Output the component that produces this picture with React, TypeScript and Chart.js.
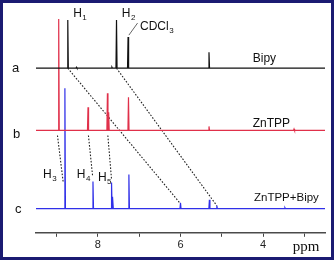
import { useEffect, useRef } from 'react';
import { Chart, registerables } from 'chart.js';
Chart.register(...registerables);

// x axis (ppm, reversed)
const ppmMin = 2.5;
const ppmMax = 9.5;
const xTicks = [9, 8, 7, 6, 5, 4, 3];
const xTickLabels = ['', '8', '', '6', '', '4', ''];

// trace baselines (intensity units)
const traceOffsets = [164, 102, 24];
const traceColors = ['#111111', '#e0304a', '#3030e8'];

// a: Bipy
const bipyPpm = [8.73, 8.52, 7.66, 7.55, 7.27, 5.31];
const bipyHeight = [48, 1, 1, 48, 31, 16];
// b: ZnTPP
const znPpm = [8.95, 8.24, 7.77, 7.74, 7.26, 5.31, 3.25];
const znHeight = [111, 23, 37, 18, 33, 4, 1.5];
// c: ZnTPP+Bipy
const mixPpm = [8.8, 8.12, 7.67, 7.64, 7.25, 6.0, 5.3, 5.12, 3.47];
const mixHeight = [120, 27, 26, 12, 34, 6, 9, 3, 1];

// dotted correlation lines
const linkFromPpm = [8.73, 7.55, 8.98, 8.23, 7.76];
const linkFromY = [164, 164, 97, 97, 97];
const linkToPpm = [6.0, 5.12, 8.84, 8.13, 7.67];
const linkToY = [29, 27, 50, 57, 53];

// CDCl3 leader line
const leaderPpm = [7.25, 7.04];
const leaderY = [197, 209];

// text annotations
const labelText = ['H', 'H', 'CDCl', 'Bipy', 'ZnTPP', 'ZnTPP+Bipy', 'a', 'b', 'c', 'H', 'H', 'H'];
const labelSub = ['1', '2', '3', '', '', '', '', '', '', '3', '4', '5'];
const labelPpm = [8.6, 7.42, 6.98, 4.25, 4.25, 4.22, 10.08, 10.06, 10.01, 9.33, 8.51, 8.0];
const labelY = [215, 215, 202, 170, 105, 32, 160, 94, 20, 55, 55, 52];
const labelSize = [12, 12, 12, 12, 12, 11.5, 13, 13, 13, 12, 12, 12];
const axisTitle = 'ppm';
const axisTitlePpm = 3.28;
const axisTitleY = -18;

const peakHalfWidth = 0.013;

function buildSpectrum(ppm: number[], height: number[], base: number) {
  const idx = ppm.map((_, i) => i).sort((a, b) => ppm[b] - ppm[a]);
  const pts: { x: number; y: number }[] = [{ x: ppmMax, y: base }];
  for (const i of idx) {
    pts.push({ x: ppm[i] + peakHalfWidth, y: base });
    pts.push({ x: ppm[i], y: base + height[i] });
    pts.push({ x: ppm[i] - peakHalfWidth, y: base });
  }
  pts.push({ x: ppmMin, y: base });
  return pts;
}

const SANS = '"Liberation Sans", Arial, sans-serif';
const SERIF = '"Liberation Serif", "Times New Roman", serif';

const annotPlugin = {
  id: 'annot',
  afterDatasetsDraw(chart: any) {
    const { ctx } = chart;
    const xs = chart.scales.x;
    const ys = chart.scales.y;
    ctx.save();
    ctx.fillStyle = '#111';
    ctx.textBaseline = 'alphabetic';
    ctx.textAlign = 'left';
    for (let i = 0; i < labelText.length; i++) {
      const px = xs.getPixelForValue(labelPpm[i]);
      const py = ys.getPixelForValue(labelY[i]);
      ctx.font = `${labelSize[i]}px ${SANS}`;
      ctx.fillText(labelText[i], px, py);
      if (labelSub[i]) {
        const w = ctx.measureText(labelText[i]).width;
        ctx.font = `8px ${SANS}`;
        ctx.fillText(labelSub[i], px + w + 0.5, py + 3);
      }
    }
    ctx.font = `15px ${SERIF}`;
    ctx.fillText(axisTitle, xs.getPixelForValue(axisTitlePpm), ys.getPixelForValue(axisTitleY));
    ctx.restore();
  },
};

export default function App() {
  const ref = useRef<HTMLCanvasElement>(null);
  useEffect(() => {
    if (!ref.current) return;
    const spectra = [
      buildSpectrum(bipyPpm, bipyHeight, traceOffsets[0]),
      buildSpectrum(znPpm, znHeight, traceOffsets[1]),
      buildSpectrum(mixPpm, mixHeight, traceOffsets[2]),
    ];
    const datasets: any[] = spectra.map((d, i) => ({
      data: d,
      borderColor: traceColors[i],
      borderWidth: 1.2,
      pointRadius: 0,
      tension: 0,
      fill: false,
    }));
    linkFromPpm.forEach((_, i) => {
      datasets.push({
        data: [
          { x: linkFromPpm[i], y: linkFromY[i] },
          { x: linkToPpm[i], y: linkToY[i] },
        ],
        borderColor: '#222',
        borderWidth: 1.1,
        borderDash: [1.6, 1.6],
        pointRadius: 0,
        fill: false,
      });
    });
    datasets.push({
      data: [
        { x: leaderPpm[0], y: leaderY[0] },
        { x: leaderPpm[1], y: leaderY[1] },
      ],
      borderColor: '#666',
      borderWidth: 1,
      pointRadius: 0,
      fill: false,
    });
    const chart = new Chart(ref.current, {
      type: 'line',
      data: { datasets },
      options: {
        animation: false,
        responsive: false,
        devicePixelRatio: 1,
        layout: { padding: { left: 36, right: 11, top: 8, bottom: 8 } },
        plugins: { legend: { display: false }, tooltip: { enabled: false } },
        elements: { line: { borderCapStyle: 'butt' } },
        scales: {
          x: {
            type: 'linear',
            reverse: true,
            min: ppmMin,
            max: ppmMax,
            afterBuildTicks: (axis: any) => {
              axis.ticks = xTicks.map((v) => ({ value: v }));
            },
            grid: { drawOnChartArea: false, drawTicks: true, tickLength: 4, color: '#444' },
            border: { display: true, color: '#4a4a4a', width: 1.5 },
            ticks: {
              autoSkip: false,
              maxRotation: 0,
              padding: 2,
              color: '#222',
              font: { family: SANS, size: 11 },
              callback: (v: any) => {
                const i = xTicks.indexOf(Number(v));
                return i >= 0 ? xTickLabels[i] : '';
              },
            },
          },
          y: { type: 'linear', display: false, min: 0, max: 224 },
        },
      },
      plugins: [annotPlugin],
    });
    return () => chart.destroy();
  }, []);
  return (
    <div style={{ position: 'absolute', left: 0, top: 0, width: 336, height: 262, background: '#fff' }}>
      <canvas ref={ref} width={336} height={262} style={{ position: 'absolute', left: 0, top: 0 }} />
      <div
        style={{
          position: 'absolute',
          left: 0,
          top: 0,
          width: 334,
          height: 260,
          boxSizing: 'border-box',
          border: '3px solid #1b1b72',
          pointerEvents: 'none',
        }}
      />
    </div>
  );
}
